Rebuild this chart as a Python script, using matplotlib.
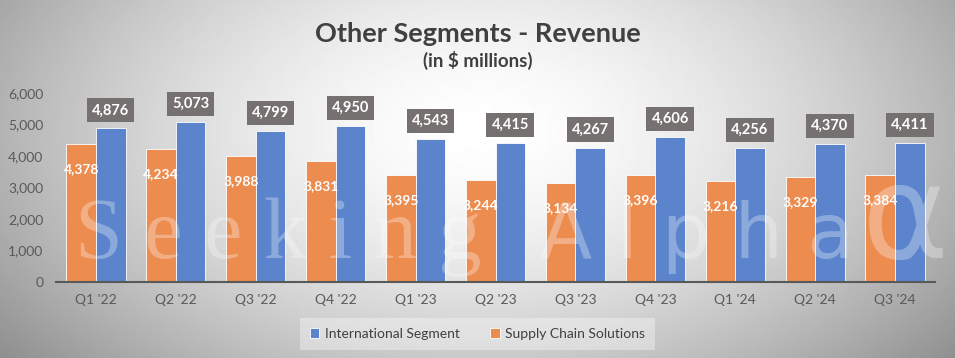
import numpy as np
import matplotlib
matplotlib.use("Agg")
import matplotlib.pyplot as plt

plt.rcParams['font.family'] = ['Lato', 'DejaVu Sans']

quarters = ["Q1 '22", "Q2 '22", "Q3 '22", "Q4 '22", "Q1 '23", "Q2 '23",
            "Q3 '23", "Q4 '23", "Q1 '24", "Q2 '24", "Q3 '24"]
international = [4876, 5073, 4799, 4950, 4543, 4415, 4267, 4606, 4256, 4370, 4411]
supply_chain = [4378, 4234, 3988, 3831, 3395, 3244, 3134, 3396, 3216, 3329, 3384]

blue = '#5b84cc'
orange = '#ed8c4f'
label_box = '#767171'

fig = plt.figure(figsize=(9.55, 3.58), dpi=100)

# radial grey gradient background
bg = fig.add_axes([0, 0, 1, 1], zorder=-10)
yy, xx = np.mgrid[0:358, 0:955]
r = np.sqrt(((xx - 480) / 540.0) ** 2 + ((yy - 130) / 320.0) ** 2)
shade = np.clip(1.0 - 0.36 * r ** 1.6, 0, 1)
bg.imshow(shade, cmap='gray', vmin=0, vmax=1, aspect='auto', interpolation='bilinear')
bg.axis('off')

ax = fig.add_axes([56 / 955, 1 - 282 / 358, (935 - 56) / 955, (282 - 93) / 358])
ax.patch.set_alpha(0)

x = np.arange(len(quarters))
w = 0.37
ax.bar(x - w / 2, supply_chain, w, color=orange, edgecolor='white', linewidth=0.6,
       label='Supply Chain Solutions', zorder=2)
ax.bar(x + w / 2, international, w, color=blue, edgecolor='white', linewidth=0.6,
       label='International Segment', zorder=2)

for i in range(len(quarters)):
    ax.annotate(f"{supply_chain[i]:,}", (x[i] - w / 2, supply_chain[i]),
                xytext=(0, -18), textcoords='offset points', ha='center', va='center',
                color='white', fontsize=10, fontweight='bold', zorder=5)
    ax.annotate(f"{international[i]:,}", (x[i] + w / 2, international[i]),
                xytext=(0, 13), textcoords='offset points', ha='center', va='center',
                color='white', fontsize=10.5, fontweight='bold', zorder=5,
                bbox=dict(boxstyle='square,pad=0.35', fc=label_box, ec='none'))

ax.set_xlim(-0.5, len(quarters) - 0.5)
ax.set_ylim(0, 6000)
ax.set_yticks(range(0, 6001, 1000))
ax.set_yticklabels([f"{v:,}" for v in range(0, 6001, 1000)])
ax.set_xticks(x)
ax.set_xticklabels(quarters)
ax.tick_params(axis='both', length=0, labelsize=10, colors='#595959')
ax.tick_params(axis='x', pad=9)
ax.tick_params(axis='y', pad=9)
for s in ['top', 'right', 'left']:
    ax.spines[s].set_visible(False)
ax.spines['bottom'].set_color('#595959')
ax.spines['bottom'].set_linewidth(1.5)

# watermark
wm = dict(color='white', alpha=0.3, va='baseline', ha='left', zorder=10)
fig.text(75 / 955, 1 - 258 / 358, 'S e e k i n g', fontsize=62,
         family='Liberation Serif', **wm)
fig.text(540 / 955, 1 - 258 / 358, 'A l p h a', fontsize=55,
         family='DejaVu Sans', **wm)
fig.text(862 / 955, 1 - 258 / 358, 'α', fontsize=95, family='DejaVu Sans', **wm)

fig.text(0.5, 0.905, 'Other Segments - Revenue', ha='center', va='center',
         fontsize=19.5, fontweight='bold', color='#404040')
fig.text(0.5, 0.83, '(in $ millions)', ha='center', va='center',
         fontsize=13.5, fontweight='bold', color='#404040')

handles, labels = ax.get_legend_handles_labels()
leg = fig.legend(handles[::-1], labels[::-1], loc='center', bbox_to_anchor=(0.5, 0.067),
                 ncol=2, frameon=True, fontsize=10, handlelength=0.7, handleheight=0.7,
                 columnspacing=2.2, handletextpad=0.4, labelcolor='#404040')
leg.get_frame().set_facecolor('white')
leg.get_frame().set_alpha(0.35)
leg.get_frame().set_edgecolor('none')
leg.get_frame().set_boxstyle('square', pad=0.3)

fig.savefig('out.png', dpi=100)
